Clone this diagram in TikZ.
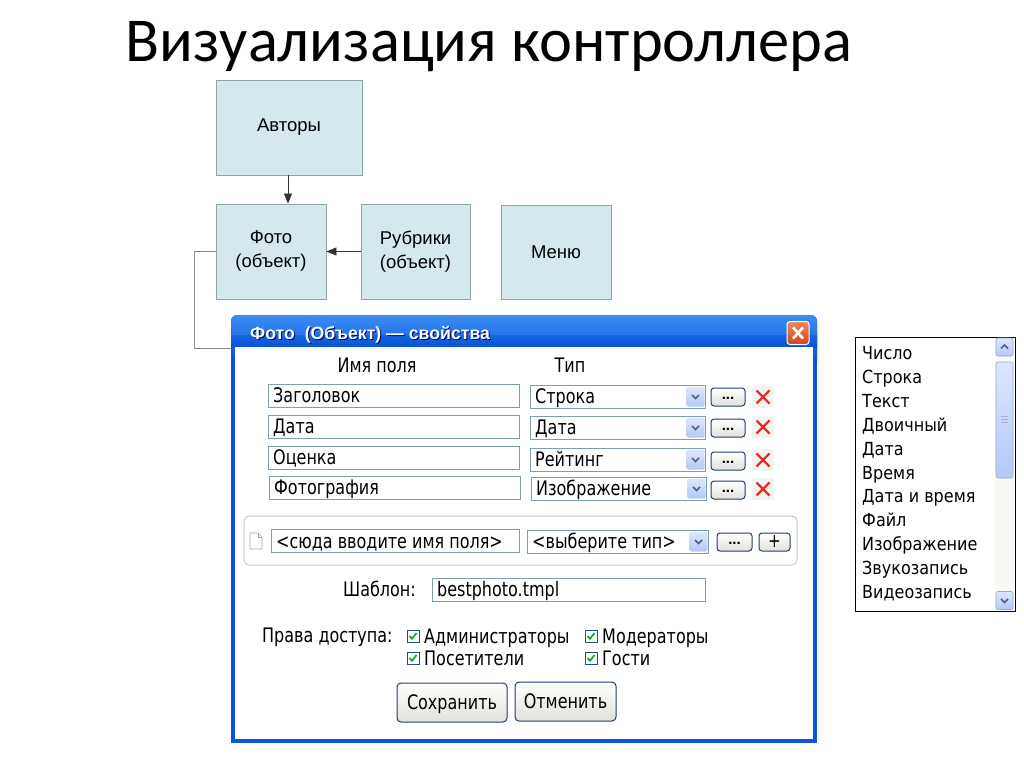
\documentclass[tikz,border=0pt]{standalone}
\usepackage{fontspec}
\setmainfont{Liberation Sans}
\newfontfamily\ttlfam{Carlito}
\newfontfamily\tahfam[FakeStretch=0.8]{DejaVu Sans}
\newfontfamily\lstfam[FakeStretch=0.89]{DejaVu Sans}
\newfontfamily\arlfam{Liberation Sans}
\usetikzlibrary{arrows.meta,calc}
\definecolor{boxfill}{HTML}{D4E8EE}
\definecolor{boxline}{HTML}{8FA3AA}
\definecolor{dlgblue}{HTML}{0A55DB}
\definecolor{bartop}{HTML}{3D8DF7}
\definecolor{barbot}{HTML}{0753D6}
\definecolor{fldline}{HTML}{7F9DB9}
\definecolor{arrtop}{HTML}{DDE7FD}
\definecolor{arrbot}{HTML}{B4C7F6}
\definecolor{chevcol}{HTML}{4D6185}
\definecolor{btnline}{HTML}{1F3F73}
\definecolor{btnbot}{HTML}{E2E2DA}
\definecolor{redx}{HTML}{E2321F}
\definecolor{xbg}{HTML}{F3F3F3}
\definecolor{closetop}{HTML}{EC8A62}
\definecolor{closebot}{HTML}{D0441D}
\definecolor{grpline}{HTML}{CBCBC2}
\definecolor{chkgreen}{HTML}{21A121}
\definecolor{chkline}{HTML}{1C5180}
\definecolor{linkgray}{HTML}{8C8C8C}
\definecolor{thumb}{HTML}{C3D4FB}
\definecolor{track}{HTML}{F8F8F5}
\newcommand\dlgfont{\tahfam\fontsize{20}{23}\selectfont}
\newcommand\boxfont{\arlfam\fontsize{18.5}{24}\selectfont}
\newcommand\fieldbox[5]{%
  \node[fld, minimum width=#4pt] (#1) at (#2,#3) {};
  \node[ftxt] (#1t) at (#1.west) {#5};}
\newcommand\combobox[5]{%
  \fieldbox{#1}{#2}{#3}{#4}{#5}
  \node[arrbtn] (#1a) at ($(#1.east)+(-10.5,0)$) {};
  \draw[chev] ($(#1a)+(-3.5,-1.5)$) -- ($(#1a)+(0,2)$) -- ($(#1a)+(3.5,-1.5)$);}
\newcommand\dotbtn[4]{%
  \node[dbtn, minimum width=#4pt] (#1) at (#2,#3) {\raisebox{-4pt}{...}};}
\newcommand\delx[3]{%
  \node[xbox] (#1) at (#2,#3) {};
  \draw[redxl] ($(#1)+(-6.5,-6.5)$) -- ($(#1)+(6.5,6.5)$) ($(#1)+(-6.5,6.5)$) -- ($(#1)+(6.5,-6.5)$);}
\newcommand\chkb[3]{%
  \node[cbox] (#1) at (#2,#3) {};
  \draw[chkm] ($(#1)+(-3.5,0)$) -- ($(#1)+(-1,2.8)$) -- ($(#1)+(3.5,-3)$);}
\begin{document}
\begin{tikzpicture}[x=1pt,y=-1pt,
  ent/.style={draw=boxline, fill=boxfill, line width=0.8pt, inner sep=0pt, align=center, font=\boxfont},
  arr/.style={draw=black!80, line width=0.7pt, -{Triangle[length=10pt,width=8pt]}},
  link/.style={draw=linkgray, line width=0.8pt},
  fld/.style={draw=fldline, fill=white, line width=1pt, minimum height=23pt, inner sep=0pt, anchor=west},
  ftxt/.style={anchor=west, xshift=5pt, inner sep=0pt, text height=14.5pt, text depth=0pt, font=\dlgfont},
  lbl/.style={inner sep=0pt, text height=14.5pt, text depth=0pt, font=\dlgfont},
  arrbtn/.style={minimum width=18pt, minimum height=20pt, inner sep=0pt, top color=arrtop, bottom color=arrbot, rounded corners=1.5pt},
  chev/.style={draw=chevcol, line width=1.5pt},
  dbtn/.style={draw=btnline, line width=1pt, rounded corners=3pt, minimum height=18pt, inner sep=0pt, top color=white, bottom color=btnbot, font=\arlfam\bfseries\fontsize{15}{15}\selectfont},
  xbox/.style={fill=xbg, minimum width=22pt, minimum height=22pt, inner sep=0pt},
  redxl/.style={draw=redx, line width=2.2pt},
  cbox/.style={draw=chkline, line width=0.8pt, fill=white, minimum width=12pt, minimum height=12pt, inner sep=0pt},
  chkm/.style={draw=chkgreen, line width=1.7pt},
  bigbtn/.style={draw=btnline, line width=1pt, rounded corners=4pt, inner sep=0pt, top color=white, bottom color=btnbot, text height=14.5pt, text depth=0pt, font=\dlgfont},
  sbtn/.style={draw=thumb!80!black, line width=0.6pt, rounded corners=2pt, minimum width=17pt, minimum height=18pt, inner sep=0pt, top color=arrtop, bottom color=arrbot},
  litem/.style={anchor=west, inner sep=0pt, text height=13pt, text depth=0pt, font=\lstfam\fontsize{18}{21}\selectfont}
]
\useasboundingbox (0,0) rectangle (1024,768);
\fill[white] (0,0) rectangle (1024,768);

% title
\node[inner sep=0pt, font=\ttlfam\fontsize{62.5}{68}\selectfont] (title) at (489,47) {Визуализация контроллера};

% entity boxes
\node[ent, minimum width=146pt, minimum height=95pt] (avt) at (289,127.5) {Авторы};
\node[ent, minimum width=110pt, minimum height=95pt] (foto) at (271,251.5) {Фото\\(объект)};
\node[ent, minimum width=109pt, minimum height=95pt] (rub) at (415.5,251.5) {Рубрики\\(объект)};
\node[ent, minimum width=110pt, minimum height=94pt] (menu) at (556,252) {Меню};

\draw[arr] (avt.south) ++(-1,0) coordinate (a1) -- (a1 |- foto.north);
\draw[arr] (rub.west) -- (foto.east);

% dialog frame
\node[minimum width=586pt, minimum height=428pt, inner sep=0pt] (dlg) at (524,529) {};
\fill[dlgblue, rounded corners=6pt] (231,315) rectangle (817,370);
\fill[dlgblue] (231,340) rectangle (817,743);
\shade[top color=bartop, bottom color=barbot, rounded corners=6pt] (231,315) rectangle (817,360);
\shade[top color=barbot!70!bartop, bottom color=barbot] (231,335) rectangle (817,347);
\fill[white] (235,347) rectangle (813,739);
\coordinate (dlgin) at (231,348);
\draw[link] (foto.west) -- ++(-21,0) |- (dlgin);

\node[anchor=west, inner sep=0pt, text=black!60!blue, font=\arlfam\bfseries\fontsize{17.7}{19}\selectfont] (ttlsh) at (251,336) {Фото\ \ (Объект) — свойства};
\node[anchor=west, inner sep=0pt, text=white, font=\arlfam\bfseries\fontsize{17.7}{19}\selectfont] (ttl) at (250,335) {Фото\ \ (Объект) — свойства};
\node[draw=white, line width=1pt, rounded corners=3pt, minimum width=22pt, minimum height=23pt, inner sep=0pt, top color=closetop, bottom color=closebot] (close) at (798,333) {};
\draw[white, line width=2.6pt] ($(close)+(-5,-5.5)$) -- ($(close)+(5,5.5)$) ($(close)+(-5,5.5)$) -- ($(close)+(5,-5.5)$);

% headers
\node[lbl] (h1) at (377,365) {Имя поля};
\node[lbl] (h2) at (570,365) {Тип};

% rows
\fieldbox{n1}{268}{395.5}{251}{Заголовок}
\fieldbox{n2}{268}{426.5}{251}{Дата}
\fieldbox{n3}{268}{457.5}{251}{Оценка}
\fieldbox{n4}{269}{487.5}{251}{Фотография}
\combobox{c1}{530}{396.5}{175}{Строка}
\combobox{c2}{530}{427.5}{175}{Дата}
\combobox{c3}{530}{459.5}{175}{Рейтинг}
\combobox{c4}{531}{488.5}{175}{Изображение}
\dotbtn{d1}{728}{397}{34}
\dotbtn{d2}{728}{428}{34}
\dotbtn{d3}{728}{461}{34}
\dotbtn{d4}{728}{490}{34}
\delx{x1}{763}{397}
\delx{x2}{763}{427}
\delx{x3}{763}{460}
\delx{x4}{763}{489}

% new field group
\node[draw=grpline, line width=1pt, rounded corners=5pt, minimum width=553pt, minimum height=49pt, inner sep=0pt] (grp) at (520.5,540.5) {};
\draw[draw=black!35, fill=white, line width=0.7pt] (250,533) -- (258,533) -- (262,537) -- (262,549) -- (250,549) -- cycle;
\draw[draw=black!35, line width=0.7pt] (258,533) -- (258,537) -- (262,537);
\fieldbox{nn}{271}{541}{248}{<сюда вводите имя поля>}
\combobox{nc}{527}{541.5}{181}{<выберите тип>}
\dotbtn{nd}{734.5}{542}{35}
\node[dbtn, minimum width=31pt, font=\tahfam\fontsize{19}{19}\selectfont] (plus) at (774.5,542) {+};

% template
\node[lbl, anchor=east] (shl) at (416,589) {Шаблон:};
\fieldbox{tpl}{432}{589.5}{273}{bestphoto.tmpl}

% rights
\node[lbl, anchor=west] (prl) at (262,635) {Права доступа:};
\chkb{k1}{413}{636}
\chkb{k2}{591}{636}
\chkb{k3}{413}{658}
\chkb{k4}{591}{658}
\node[lbl, anchor=west] (k1t) at (424,636) {Администраторы};
\node[lbl, anchor=west] (k2t) at (602,636) {Модераторы};
\node[lbl, anchor=west] (k3t) at (424,658) {Посетители};
\node[lbl, anchor=west] (k4t) at (602,658) {Гости};

% buttons
\node[bigbtn, minimum width=110pt, minimum height=39pt] (save) at (452,702.5) {Сохранить};
\node[bigbtn, minimum width=101pt, minimum height=39pt] (cancel) at (565.5,701.5) {Отменить};

% list box
\node[draw=black, line width=1pt, fill=white, minimum width=160pt, minimum height=274pt, inner sep=0pt] (lst) at (935,474) {};
\fill[track] (995,338) rectangle (1014,610);
\node[sbtn] (up) at (1004.5,347) {};
\draw[chev] ($(up)+(-3.5,1.5)$) -- ($(up)+(0,-2)$) -- ($(up)+(3.5,1.5)$);
\node[sbtn, minimum height=116pt] (thm) at (1004.5,420) {};
\draw[chevcol!50, line width=0.6pt] (1001,416) -- (1008,416) (1001,419) -- (1008,419) (1001,422) -- (1008,422);
\node[sbtn] (dn) at (1004.5,600.5) {};
\draw[chev] ($(dn)+(-3.5,-1.5)$) -- ($(dn)+(0,2)$) -- ($(dn)+(3.5,-1.5)$);
\foreach \t [count=\i from 0] in {Число,Строка,Текст,Двоичный,Дата,Время,Дата и время,Файл,Изображение,Звукозапись,Видеозапись}
  \node[litem] (li\i) at (862,353+23.9*\i) {\t};
\end{tikzpicture}
\end{document}
